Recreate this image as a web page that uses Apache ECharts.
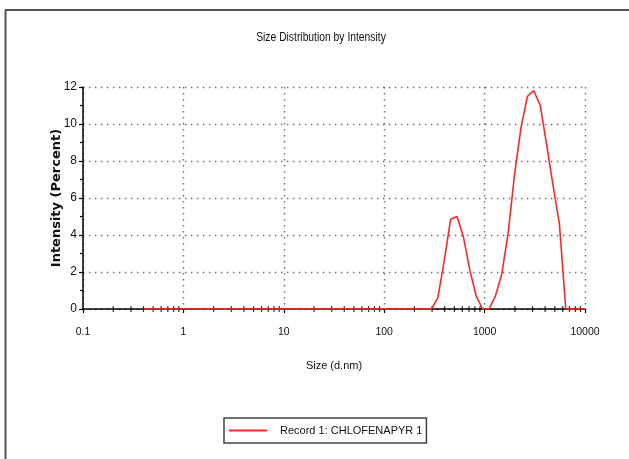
<!DOCTYPE html>
<html>
<head>
<meta charset="utf-8">
<script src="https://cdn.jsdelivr.net/npm/echarts@6/dist/echarts.min.js"></script>
<style>
  html, body { margin: 0; padding: 0; background: #fff; }
  #chart { width: 629px; height: 459px; }
</style>
</head>
<body>
<div id="chart"></div>
<script>
// Size bins (d.nm) of the intensity distribution
const sizes = [
  0.4, 0.4632, 0.5365, 0.6213, 0.7195, 0.8332, 0.9649, 1.117, 1.294, 1.499,
  1.736, 2.010, 2.328, 2.696, 3.122, 3.615, 4.187, 4.849, 5.615, 6.503,
  7.531, 8.721, 10.10, 11.70, 13.54, 15.69, 18.17, 21.04, 24.36, 28.21,
  32.67, 37.84, 43.82, 50.75, 58.77, 68.06, 78.82, 91.28, 105.7, 122.4,
  141.8, 164.2, 190.1, 220.2, 255.0, 295.3, 342.0, 396.1, 458.7, 531.2,
  615.1, 712.4, 825.0, 955.4, 1106, 1281, 1484, 1718, 1990, 2305,
  2669, 3091, 3580, 4145, 4801, 5560, 6439, 7456, 8635, 10000
];

// Intensity (%) for each bin
const intensity = [
  0, 0, 0, 0, 0, 0, 0, 0, 0, 0,
  0, 0, 0, 0, 0, 0, 0, 0, 0, 0,
  0, 0, 0, 0, 0, 0, 0, 0, 0, 0,
  0, 0, 0, 0, 0, 0, 0, 0, 0, 0,
  0, 0, 0, 0, 0, 0, 0.6, 2.6, 4.85, 5.0,
  3.9, 2.1, 0.7, 0, 0, 0.7, 1.9, 4.1, 7.3, 9.8,
  11.5, 11.8, 11.0, 8.9, 6.7, 4.6, 0, 0, 0, 0
];

// Minor tick positions (2..9 of each decade) on the size axis
const minorTicks = [];
[0.1, 1, 10, 100, 1000].forEach(function (d) {
  for (let k = 2; k <= 9; k++) minorTicks.push(+(d * k).toPrecision(3));
});

const recordName = 'Record 1: CHLOFENAPYR 1';
const chartTitle = 'Size Distribution by Intensity';
const xName = 'Size (d.nm)';
const yName = 'Intensity (Percent)';

const sans = '"Liberation Sans", Arial, sans-serif';
const gridDots = { color: '#6a6a6a', width: 1.4, type: [1.4, 4.6] };

const chart = echarts.init(document.getElementById('chart'), null, { renderer: 'canvas' });

chart.setOption({
  animation: false,
  backgroundColor: '#ffffff',
  graphic: [
    // frame of the report panel
    { type: 'line', shape: { x1: 5, y1: 10, x2: 629, y2: 10 }, style: { stroke: '#555', lineWidth: 2 } },
    { type: 'line', shape: { x1: 5.5, y1: 10, x2: 5.5, y2: 459 }, style: { stroke: '#555', lineWidth: 2 } },
    // condensed chart heading
    {
      type: 'text',
      x: 321,
      y: 38,
      scaleX: 0.86,
      style: {
        text: chartTitle,
        font: '12px ' + sans,
        fill: '#111',
        align: 'center',
        verticalAlign: 'middle'
      }
    }
  ],
  legend: {
    data: [recordName],
    left: 224,
    top: 418,
    orient: 'horizontal',
    icon: 'rect',
    itemWidth: 38,
    itemHeight: 2,
    padding: [7, 4, 7, 5],
    borderColor: '#444',
    borderWidth: 1.5,
    textStyle: { fontFamily: sans, fontSize: 11, color: '#111', padding: [0, 0, 0, 8] }
  },
  grid: { left: 83, right: 44, top: 87, bottom: 150, containLabel: false },
  xAxis: {
    type: 'log',
    logBase: 10,
    min: 0.1,
    max: 10000,
    name: xName,
    nameLocation: 'middle',
    nameGap: 51,
    nameTextStyle: { fontFamily: sans, fontSize: 11, color: '#111' },
    axisLine: { show: true, onZero: false, lineStyle: { color: '#000', width: 1.5 } },
    axisTick: { show: true, length: 4, lineStyle: { color: '#000', width: 1.2 } },
    minorTick: { show: false },
    axisLabel: {
      margin: 18,
      fontFamily: sans,
      fontSize: 10.5,
      color: '#111',
      formatter: function (v) { return String(v); }
    },
    splitLine: { show: true, lineStyle: gridDots }
  },
  yAxis: {
    type: 'value',
    min: 0,
    max: 12,
    interval: 2,
    name: yName,
    nameLocation: 'middle',
    nameGap: 20,
    nameMoveOverlap: false,
    nameRotate: 90,
    nameTextStyle: { fontFamily: '"DejaVu Sans", sans-serif', fontSize: 13, fontWeight: 'bold', color: '#111' },
    axisLine: { show: true, lineStyle: { color: '#000', width: 1.5 } },
    axisTick: { show: true, length: 4, lineStyle: { color: '#000', width: 1.2 } },
    minorTick: { show: true, splitNumber: 2, length: 3, lineStyle: { color: '#000', width: 1.2 } },
    axisLabel: { margin: 6, fontFamily: sans, fontSize: 12, color: '#111' },
    splitLine: { show: true, lineStyle: gridDots }
  },
  series: [
    {
      type: 'scatter',
      silent: true,
      clip: false,
      symbol: 'rect',
      symbolSize: [1.2, 6],
      itemStyle: { color: '#000' },
      z: 1,
      data: minorTicks.map(function (v) { return [v, 0]; })
    },
    {
      name: recordName,
      type: 'line',
      symbol: 'none',
      clip: false,
      z: 3,
      lineStyle: { color: '#ff2626', width: 1.6 },
      itemStyle: { color: '#ff2626' },
      data: sizes.map(function (s, i) { return [s, intensity[i]]; })
    }
  ]
});
</script>
</body>
</html>
